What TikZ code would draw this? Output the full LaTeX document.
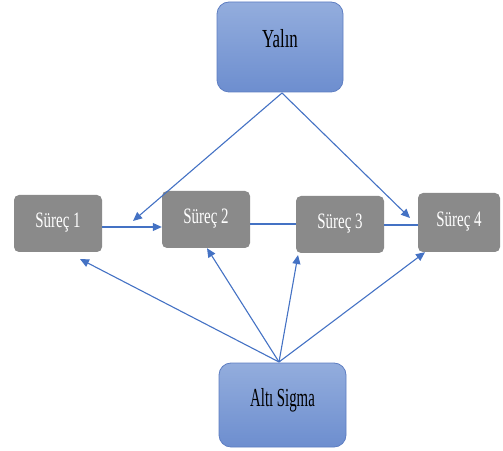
\documentclass[tikz,border=0pt]{standalone}
\usepackage{fontspec}
\setmainfont{Liberation Serif}
\usetikzlibrary{arrows.meta}
\definecolor{arrowblue}{HTML}{4472C4}
\definecolor{boxtop}{HTML}{93ADDD}
\definecolor{boxbot}{HTML}{6D8ECF}
\definecolor{boxedge}{HTML}{5E7EC2}
\definecolor{procgray}{HTML}{8A8A8A}
\tikzset{
  bluebox/.style={draw=boxedge, line width=0.8pt, rounded corners=12pt, top color=boxtop, bottom color=boxbot, inner sep=0pt, font=\fontsize{26}{26}\selectfont, text=black},
  procbox/.style={fill=procgray, draw=none, rounded corners=5pt, inner sep=0pt, font=\fontsize{22}{22}\selectfont, text=white},
  conn/.style={draw=arrowblue, line width=1.1pt},
  arr/.style={conn, -{Triangle[length=9pt,width=8pt]}}
}
\begin{document}
\begin{tikzpicture}[x=1pt,y=1pt]
\useasboundingbox (0,0) rectangle (503,450);
% boxes
\node[bluebox, minimum width=126pt, minimum height=90pt] (yalin) at (280,403) {\raisebox{17pt}{\scalebox{0.65}[1]{Yalın}}};
\node[bluebox, minimum width=127pt, minimum height=84pt] (alti) at (282.5,45) {\raisebox{15pt}{\scalebox{0.57}[1]{Altı Sigma}}};
\node[procbox, minimum width=88pt, minimum height=57pt] (s1) at (58,226.5) {\raisebox{6pt}{\scalebox{0.68}[1]{Süreç 1}}};
\node[procbox, minimum width=88pt, minimum height=57pt] (s2) at (206,230.5) {\raisebox{6pt}{\scalebox{0.68}[1]{Süreç 2}}};
\node[procbox, minimum width=88pt, minimum height=57pt] (s3) at (340,225.5) {\raisebox{6pt}{\scalebox{0.68}[1]{Süreç 3}}};
\node[procbox, minimum width=82pt, minimum height=59pt] (s4) at (459,227.5) {\raisebox{6pt}{\scalebox{0.68}[1]{Süreç 4}}};
% free arrow ends
\coordinate (ytop) at (282,357);
\coordinate (ya) at (133,229);
\coordinate (yb) at (410,232);
\coordinate (abot) at (279,88);
% Yalin arrows
\draw[arr] (ytop) -- (ya);
\draw[arr] (ytop) -- (yb);
% process chain
\draw[arr] (s1.east |- 0,223) -- (s2.west |- 0,223);
\draw[conn] (s2.east |- 0,226) -- (s3.west |- 0,226);
\draw[conn] (s3.east |- 0,225) -- (s4.west |- 0,225);
% Alti Sigma arrows
\draw[arr] (abot) -- (80,191) coordinate (t1);
\draw[arr] (abot) -- (s2.south -| 207,0);
\draw[arr] (abot) -- (298,195) coordinate (t3);
\draw[arr] (abot) -- (s4.south -| 425,0);
\end{tikzpicture}
\end{document}
